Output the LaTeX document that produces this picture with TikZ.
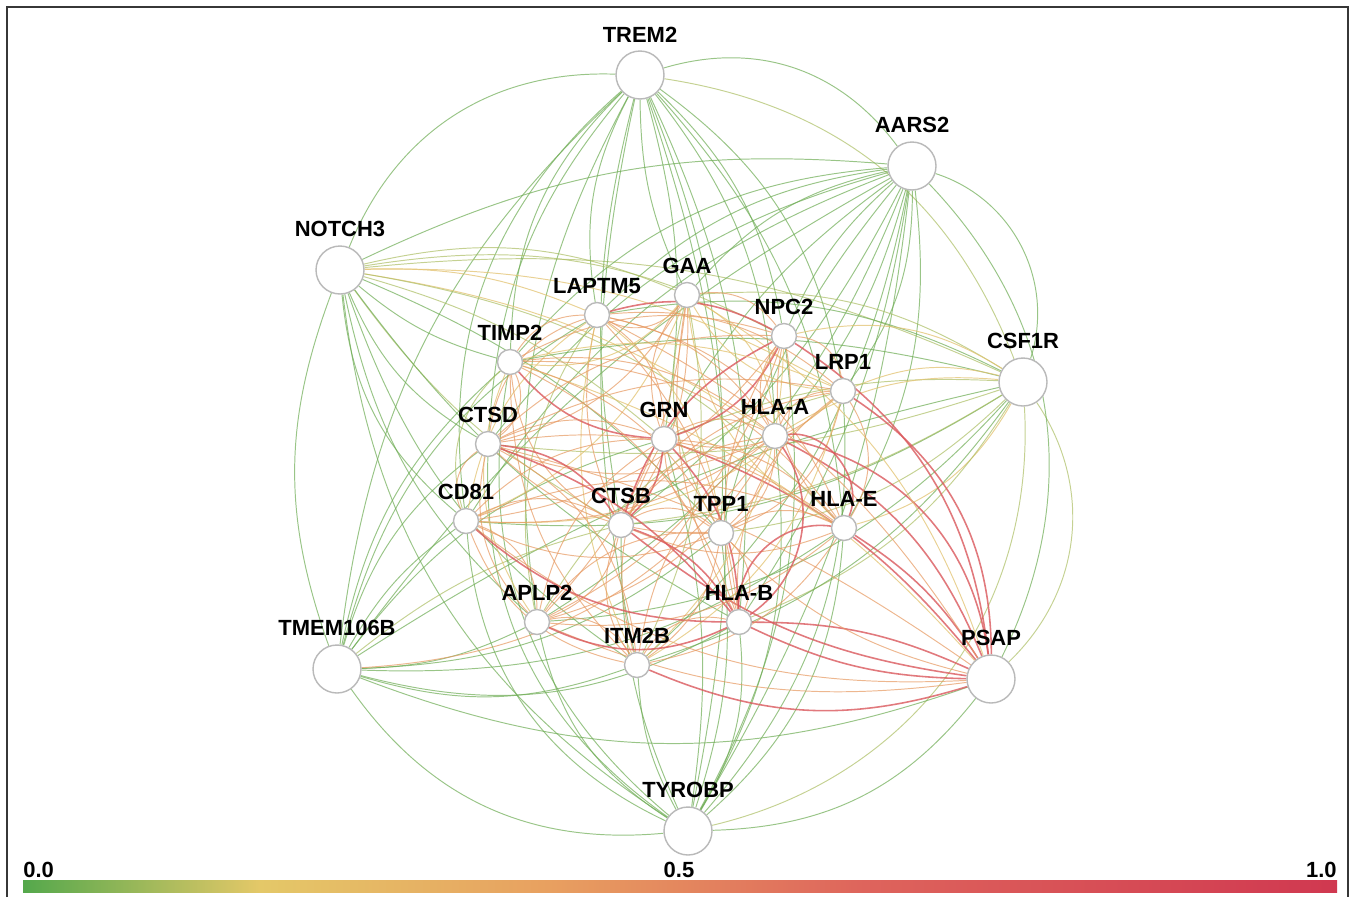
\documentclass[tikz,border=0pt]{standalone}
\usepackage{fontspec}
\setmainfont{Liberation Sans}
\usepackage{tikz}
\usetikzlibrary{backgrounds}
\definecolor{cg}{RGB}{110,172,84}
\definecolor{cyg}{RGB}{172,190,100}
\definecolor{cy}{RGB}{226,194,112}
\definecolor{co}{RGB}{230,152,96}
\definecolor{cr}{RGB}{218,88,92}
\definecolor{cnode}{RGB}{185,185,185}
\definecolor{cframe}{RGB}{55,55,55}
\definecolor{bg}{RGB}{84,168,76}
\definecolor{by}{RGB}{228,200,104}
\definecolor{bo}{RGB}{232,160,96}
\definecolor{bs}{RGB}{222,100,92}
\definecolor{br}{RGB}{208,56,80}
\pgfdeclarehorizontalshading{heatbar}{100bp}{color(0bp)=(bg); color(25bp)=(bg);
  color(34bp)=(by); color(45bp)=(bo); color(57bp)=(bs); color(75bp)=(br); color(100bp)=(br)}
\tikzstyle{gene}=[circle, draw=cnode, fill=white, line width=0.8pt,
  minimum size=0.5cm, inner sep=0pt]
\tikzstyle{hub}=[gene, minimum size=0.96cm]
\tikzstyle{lab}=[font=\fontsize{12.5}{14}\selectfont\bfseries, inner sep=2pt]
\tikzstyle{tick}=[font=\fontsize{12.5}{14}\selectfont\bfseries, inner sep=0pt]
\tikzstyle{gedge}=[draw=cg, line width=0.55pt, opacity=0.7]
\tikzstyle{ygedge}=[draw=cyg, line width=0.55pt, opacity=0.7]
\tikzstyle{yedge}=[draw=cy, line width=0.55pt, opacity=0.75]
\tikzstyle{oedge}=[draw=co, line width=0.55pt, opacity=0.7]
\tikzstyle{redge}=[draw=cr, line width=0.9pt, opacity=0.8]
\begin{document}
\begin{tikzpicture}[x=0.02cm, y=-0.02cm, label distance=2.5pt]
  \useasboundingbox (0,0) rectangle (1355,897);
  \draw [cframe, line width=1.2pt] (7,897) -- (7,7) -- (1348,7) -- (1348,897);

  % hubs
  \node [hub, label={[lab]above:TREM2}] (trem) at (640,75) {};
  \node [hub, label={[lab]above:AARS2}] (aars) at (912,166) {};
  \node [hub, label={[lab]above:NOTCH3}] (notch) at (340,270) {};
  \node [hub, label={[lab]above:CSF1R}] (csf) at (1023,382) {};
  \node [hub, label={[lab]above:TMEM106B}] (tmem) at (337,669) {};
  \node [hub, label={[lab]above:PSAP}] (psap) at (991,679) {};
  \node [hub, label={[lab]above:TYROBP}] (tyro) at (688,831) {};

  % inner genes
  \node [gene, label={[lab]above:GAA}] (gaa) at (687,295) {};
  \node [gene, label={[lab]above:LAPTM5}] (lap) at (597,315) {};
  \node [gene, label={[lab]above:NPC2}] (npc) at (784,336) {};
  \node [gene, label={[lab]above:TIMP2}] (timp) at (510,362) {};
  \node [gene, label={[lab]above:LRP1}] (lrp) at (843,391) {};
  \node [gene, label={[lab]above:CTSD}] (ctsd) at (488,444) {};
  \node [gene, label={[lab]above:GRN}] (grn) at (664,439) {};
  \node [gene, label={[lab]above:HLA-A}] (hlaa) at (775,436) {};
  \node [gene, label={[lab]above:CD81}] (cd81) at (466,521) {};
  \node [gene, label={[lab]above:CTSB}] (ctsb) at (621,525) {};
  \node [gene, label={[lab]above:TPP1}] (tpp) at (721,533) {};
  \node [gene, label={[lab]above:HLA-E}] (hlae) at (844,528) {};
  \node [gene, label={[lab]above:APLP2}] (aplp) at (537,622) {};
  \node [gene, label={[lab]above:HLA-B}] (hlab) at (739,622) {};
  \node [gene, label={[lab]above:ITM2B}] (itm) at (637,665) {};

  % colour scale
  \shade [shading=heatbar] (23,880) rectangle (1337,892);
  \node [tick, anchor=south west] (lo) at (23,878) {0.0};
  \node [tick, anchor=south] (mid) at (679,878) {0.5};
  \node [tick, anchor=south east] (hi) at (1337,878) {1.0};

  \begin{pgfonlayer}{background}
  % ring of hubs
  \draw [gedge] (notch) to [bend left=35] (trem);
  \draw [gedge] (trem) to [bend left=35] (aars);
  \draw [gedge] (aars) to [bend left=45] (csf);
  \draw [ygedge] (csf) to [bend left=40] (psap);
  \draw [gedge] (psap) to [bend left=25] (tyro);
  \draw [gedge] (tyro) to [bend left=30] (tmem);
  \draw [gedge] (tmem) to [bend left=20] (notch);
  \draw [ygedge] (trem) to [bend left=30] (csf);
  \draw [gedge] (aars) to [bend left=35] (psap);
  \draw [ygedge] (csf) to [bend left=40] (tyro);
  \draw [gedge] (notch) to [bend left=15] (aars);
  \draw [gedge] (tmem) to [bend left=20] (trem);
  \draw [gedge] (tyro) to [bend left=25] (notch);
  \draw [gedge] (trem) to [bend left=15] (tyro);
  \draw [gedge] (aars) to [bend left=12] (tyro);
  \draw [ygedge] (notch) to [bend left=15] (csf);
  \draw [gedge] (tmem) to [bend right=20] (psap);
  \draw [gedge] (tmem) to [bend left=10] (csf);
  \draw [gedge] (aars) to [bend right=12] (tmem);

  % TREM2
  \draw [gedge] (trem) to [bend right=12] (gaa);
  \draw [gedge] (trem) to [bend right=18] (lap);
  \draw [gedge] (trem) to [bend left=18] (npc);
  \draw [gedge] (trem) to [bend right=22] (timp);
  \draw [gedge] (trem) to [bend right=18] (ctsd);
  \draw [gedge] (trem) to [bend right=28] (cd81);
  \draw [gedge] (trem) to [bend left=12] (grn);
  \draw [gedge] (trem) to [bend left=18] (hlaa);
  \draw [gedge] (trem) to [bend left=22] (lrp);
  \draw [gedge] (trem) to [bend right=12] (ctsb);
  \draw [gedge] (trem) to [bend left=12] (tpp);
  \draw [gedge] (trem) to [bend left=18] (hlae);
  \draw [gedge] (trem) to [bend left=15] (hlab);
  \draw [gedge] (trem) to [bend right=12] (itm);
  \draw [gedge] (trem) to [bend right=18] (aplp);

  % AARS2
  \draw [gedge] (aars) to [bend right=18] (gaa);
  \draw [gedge] (aars) to [bend right=18] (lap);
  \draw [gedge] (aars) to [bend right=12] (npc);
  \draw [gedge] (aars) to [bend right=22] (timp);
  \draw [gedge] (aars) to [bend left=18] (lrp);
  \draw [gedge] (aars) to [bend right=18] (ctsd);
  \draw [gedge] (aars) to [bend right=12] (grn);
  \draw [gedge] (aars) to [bend left=12] (hlaa);
  \draw [gedge] (aars) to [bend right=18] (cd81);
  \draw [gedge] (aars) to [bend left=12] (ctsb);
  \draw [gedge] (aars) to [bend right=12] (tpp);
  \draw [gedge] (aars) to [bend left=18] (hlae);
  \draw [gedge] (aars) to [bend left=18] (aplp);
  \draw [gedge] (aars) to [bend left=12] (hlab);
  \draw [gedge] (aars) to [bend left=18] (itm);

  % NOTCH3
  \draw [ygedge] (notch) to [bend left=18] (gaa);
  \draw [yedge] (notch) to [bend left=12] (lap);
  \draw [ygedge] (notch) to [bend left=18] (npc);
  \draw [gedge] (notch) to [bend right=12] (timp);
  \draw [yedge] (notch) to [bend left=15] (lrp);
  \draw [gedge] (notch) to [bend right=18] (ctsd);
  \draw [ygedge] (notch) to [bend left=12] (grn);
  \draw [yedge] (notch) to [bend left=12] (hlaa);
  \draw [gedge] (notch) to [bend right=22] (cd81);
  \draw [ygedge] (notch) to [bend right=12] (ctsb);
  \draw [gedge] (notch) to [bend left=12] (tpp);
  \draw [ygedge] (notch) to [bend left=18] (hlae);
  \draw [gedge] (notch) to [bend right=18] (aplp);
  \draw [gedge] (notch) to [bend right=12] (hlab);
  \draw [gedge] (notch) to [bend right=18] (itm);

  % CSF1R
  \draw [ygedge] (csf) to [bend right=18] (gaa);
  \draw [gedge] (csf) to [bend right=18] (lap);
  \draw [yedge] (csf) to [bend right=22] (npc);
  \draw [gedge] (csf) to [bend right=12] (timp);
  \draw [yedge] (csf) to [bend right=18] (lrp);
  \draw [ygedge] (csf) to [bend left=12] (ctsd);
  \draw [ygedge] (csf) to [bend right=12] (grn);
  \draw [yedge] (csf) to [bend right=18] (hlaa);
  \draw [gedge] (csf) to [bend left=18] (cd81);
  \draw [ygedge] (csf) to [bend left=12] (ctsb);
  \draw [ygedge] (csf) to [bend left=18] (tpp);
  \draw [yedge] (csf) to [bend left=22] (hlae);
  \draw [gedge] (csf) to [bend left=22] (aplp);
  \draw [ygedge] (csf) to [bend left=18] (hlab);
  \draw [gedge] (csf) to [bend left=18] (itm);

  % TMEM106B
  \draw [gedge] (tmem) to [bend left=18] (timp);
  \draw [gedge] (tmem) to [bend left=18] (ctsd);
  \draw [gedge] (tmem) to [bend left=12] (cd81);
  \draw [gedge] (tmem) to [bend right=12] (aplp);
  \draw [gedge] (tmem) to [bend right=18] (itm);
  \draw [ygedge] (tmem) to [bend left=12] (ctsb);
  \draw [gedge] (tmem) to [bend left=18] (grn);
  \draw [gedge] (tmem) to [bend right=18] (tpp);
  \draw [gedge] (tmem) to [bend right=22] (hlab);
  \draw [gedge] (tmem) to [bend right=18] (hlae);
  \draw [gedge] (tmem) to [bend left=22] (lap);
  \draw [oedge] (tmem) to [bend right=25] (hlaa);

  % TYROBP
  \draw [gedge] (tyro) to [bend left=22] (aplp);
  \draw [gedge] (tyro) to [bend left=12] (itm);
  \draw [gedge] (tyro) to [bend right=18] (hlab);
  \draw [gedge] (tyro) to [bend left=30] (cd81);
  \draw [gedge] (tyro) to [bend left=12] (ctsb);
  \draw [gedge] (tyro) to [bend right=12] (tpp);
  \draw [gedge] (tyro) to [bend right=22] (hlae);
  \draw [gedge] (tyro) to [bend left=28] (ctsd);
  \draw [gedge] (tyro) to [bend right=12] (grn);
  \draw [gedge] (tyro) to [bend right=18] (hlaa);
  \draw [gedge] (tyro) to [bend left=30] (timp);
  \draw [gedge] (tyro) to [bend right=22] (lrp);
  \draw [gedge] (tyro) to [bend right=18] (npc);

  % PSAP
  \draw [redge] (hlaa) to [bend left=20] (psap);
  \draw [redge] (hlaa) to [bend left=35] (psap);
  \draw [redge] (hlae) to [bend left=12] (psap);
  \draw [redge] (hlab) to [bend right=12] (psap);
  \draw [redge] (hlab) to [bend left=12] (psap);
  \draw [redge] (lrp) to [bend left=28] (psap);
  \draw [redge] (npc) to [bend left=25] (psap);
  \draw [redge] (ctsb) to [bend right=15] (psap);
  \draw [redge] (grn) to [bend left=15] (psap);
  \draw [redge] (itm) to [bend right=20] (psap);
  \draw [oedge] (aplp) to [bend right=15] (psap);
  \draw [oedge] (tpp) to [bend right=15] (psap);
  \draw [oedge] (cd81) to [bend right=20] (psap);
  \draw [oedge] (ctsd) to [bend left=10] (psap);
  \draw [yedge] (timp) to [bend left=15] (psap);
  \draw [yedge] (gaa) to [bend left=20] (psap);
  \draw [oedge] (lap) to [bend left=15] (psap);

  % inner genes
  \draw [oedge] (gaa) to [bend left=40] (lap);
  \draw [oedge] (gaa) to [bend left=30] (npc);
  \draw [yedge] (gaa) to [bend left=28] (timp);
  \draw [yedge] (gaa) to [bend right=28] (lrp);
  \draw [oedge] (gaa) to [bend left=22] (ctsd);
  \draw [oedge] (gaa) to [bend right=28] (grn);
  \draw [yedge] (gaa) to [bend left=28] (hlaa);
  \draw [yedge] (gaa) to [bend left=22] (cd81);
  \draw [oedge] (gaa) to [bend left=18] (ctsb);
  \draw [ygedge] (gaa) to [bend right=22] (tpp);
  \draw [yedge] (gaa) to [bend right=28] (hlae);
  \draw [oedge] (gaa) to [bend left=18] (aplp);
  \draw [oedge] (gaa) to [bend right=18] (hlab);
  \draw [ygedge] (gaa) to [bend left=18] (itm);
  \draw [redge] (lap) to [bend left=22] (npc);
  \draw [oedge] (lap) to [bend right=28] (timp);
  \draw [oedge] (lap) to [bend left=22] (lrp);
  \draw [oedge] (lap) to [bend right=32] (ctsd);
  \draw [oedge] (lap) to [bend left=28] (grn);
  \draw [oedge] (lap) to [bend left=22] (hlaa);
  \draw [yedge] (lap) to [bend right=22] (cd81);
  \draw [oedge] (lap) to [bend right=18] (ctsb);
  \draw [yedge] (lap) to [bend left=22] (tpp);
  \draw [oedge] (lap) to [bend left=28] (hlae);
  \draw [ygedge] (lap) to [bend right=22] (aplp);
  \draw [oedge] (lap) to [bend left=18] (hlab);
  \draw [yedge] (lap) to [bend right=18] (itm);
  \draw [oedge] (npc) to [bend right=22] (timp);
  \draw [oedge] (npc) to [bend left=40] (lrp);
  \draw [oedge] (npc) to [bend right=22] (ctsd);
  \draw [redge] (npc) to [bend left=22] (grn);
  \draw [oedge] (npc) to [bend right=32] (hlaa);
  \draw [oedge] (npc) to [bend left=22] (cd81);
  \draw [redge] (npc) to [bend right=22] (ctsb);
  \draw [oedge] (npc) to [bend left=28] (tpp);
  \draw [oedge] (npc) to [bend right=28] (hlae);
  \draw [oedge] (npc) to [bend left=22] (aplp);
  \draw [oedge] (npc) to [bend right=22] (hlab);
  \draw [yedge] (npc) to [bend left=22] (itm);
  \draw [yedge] (timp) to [bend left=18] (lrp);
  \draw [oedge] (timp) to [bend left=40] (ctsd);
  \draw [redge] (timp) to [bend right=22] (grn);
  \draw [oedge] (timp) to [bend left=22] (hlaa);
  \draw [ygedge] (timp) to [bend right=32] (cd81);
  \draw [oedge] (timp) to [bend right=28] (ctsb);
  \draw [oedge] (timp) to [bend left=22] (tpp);
  \draw [oedge] (timp) to [bend left=28] (hlae);
  \draw [yedge] (timp) to [bend right=28] (aplp);
  \draw [oedge] (timp) to [bend left=22] (hlab);
  \draw [oedge] (timp) to [bend right=22] (itm);
  \draw [oedge] (lrp) to [bend right=18] (ctsd);
  \draw [oedge] (lrp) to [bend left=28] (grn);
  \draw [oedge] (lrp) to [bend right=32] (hlaa);
  \draw [yedge] (lrp) to [bend left=22] (cd81);
  \draw [oedge] (lrp) to [bend right=22] (ctsb);
  \draw [oedge] (lrp) to [bend left=28] (tpp);
  \draw [oedge] (lrp) to [bend left=32] (hlae);
  \draw [ygedge] (lrp) to [bend right=22] (aplp);
  \draw [oedge] (lrp) to [bend right=28] (hlab);
  \draw [yedge] (lrp) to [bend left=22] (itm);
  \draw [oedge] (ctsd) to [bend left=22] (grn);
  \draw [oedge] (ctsd) to [bend right=22] (hlaa);
  \draw [oedge] (ctsd) to [bend right=40] (cd81);
  \draw [redge] (ctsd) to [bend left=25] (ctsb);
  \draw [oedge] (ctsd) to [bend right=22] (tpp);
  \draw [oedge] (ctsd) to [bend left=22] (hlae);
  \draw [oedge] (ctsd) to [bend right=28] (aplp);
  \draw [redge] (ctsd) to [bend left=15] (hlab);
  \draw [oedge] (ctsd) to [bend left=28] (itm);
  \draw [oedge] (grn) to [bend left=28] (hlaa);
  \draw [oedge] (grn) to [bend right=22] (cd81);
  \draw [redge] (grn) to [bend left=20] (ctsb);
  \draw [oedge] (grn) to [bend right=28] (tpp);
  \draw [oedge] (grn) to [bend left=22] (hlae);
  \draw [oedge] (grn) to [bend right=22] (aplp);
  \draw [redge] (grn) to [bend left=20] (hlab);
  \draw [oedge] (grn) to [bend right=22] (itm);
  \draw [oedge] (hlaa) to [bend left=18] (cd81);
  \draw [oedge] (hlaa) to [bend right=22] (ctsb);
  \draw [oedge] (hlaa) to [bend left=28] (tpp);
  \draw [redge] (hlaa) to [bend left=60] (hlae);
  \draw [oedge] (hlaa) to [bend left=22] (aplp);
  \draw [redge] (hlaa) to [bend left=45] (hlab);
  \draw [oedge] (hlaa) to [bend right=22] (itm);
  \draw [oedge] (cd81) to [bend left=28] (ctsb);
  \draw [oedge] (cd81) to [bend right=22] (tpp);
  \draw [oedge] (cd81) to [bend left=22] (hlae);
  \draw [oedge] (cd81) to [bend left=35] (aplp);
  \draw [redge] (cd81) to [bend right=20] (hlab);
  \draw [oedge] (cd81) to [bend right=28] (itm);
  \draw [oedge] (ctsb) to [bend left=35] (tpp);
  \draw [oedge] (ctsb) to [bend right=22] (hlae);
  \draw [oedge] (ctsb) to [bend left=28] (aplp);
  \draw [redge] (ctsb) to [bend left=20] (hlab);
  \draw [oedge] (ctsb) to [bend right=28] (itm);
  \draw [oedge] (tpp) to [bend left=28] (hlae);
  \draw [oedge] (tpp) to [bend right=28] (aplp);
  \draw [oedge] (tpp) to [bend left=35] (hlab);
  \draw [oedge] (tpp) to [bend left=22] (itm);
  \draw [oedge] (hlae) to [bend left=22] (aplp);
  \draw [redge] (hlae) to [bend right=50] (hlab);
  \draw [oedge] (hlae) to [bend left=22] (itm);
  \draw [redge] (aplp) to [bend right=25] (hlab);
  \draw [oedge] (aplp) to [bend left=35] (itm);
  \draw [oedge] (hlab) to [bend right=35] (itm);
  \end{pgfonlayer}
\end{tikzpicture}
\end{document}
